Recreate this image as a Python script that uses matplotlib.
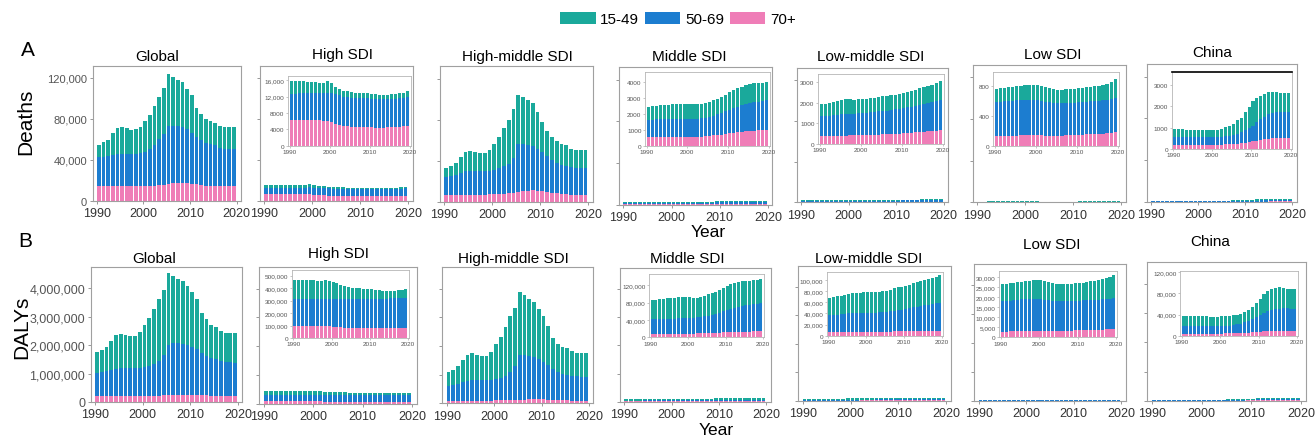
import numpy as np
import matplotlib.pyplot as plt
from matplotlib.patches import Patch
from matplotlib.ticker import FuncFormatter

plt.rcParams["font.family"] = ["Liberation Sans", "DejaVu Sans"]

FIG_W, FIG_H = 1315, 439
years = np.arange(1990, 2020)
age_groups = ["15-49", "50-69", "70+"]
colors = ["#1aa99b", "#1c7dd0", "#ef7db7"]

# ---- Deaths (Global and High-middle in thousands, others in counts) ----
d_global_1549 = [12, 14, 16, 21.5, 25.5, 26, 25, 23, 24, 26, 30, 33.5, 38.5, 41, 44.5,
                 51, 48, 45, 44, 39, 37, 28.5, 26, 23.5, 22.5, 21, 21, 21, 21.5, 22]
d_global_5069 = [28.5, 29, 29.4, 30.4, 31.4, 31.9, 31.9, 31.9, 31.9, 32.4, 33.8, 36.2, 40, 45, 50,
                 56.7, 56, 55.7, 55.2, 53, 49.5, 46, 43.7, 41.7, 40.5, 40.2, 37.8, 36.9, 36.9, 36.4]
d_global_70 = [14, 14, 14.1, 14.1, 14.1, 14.1, 14.1, 14.1, 14.1, 14.1, 14.2, 14.3, 14.5, 15, 15.5,
               16.3, 17, 17.3, 17.3, 17, 16.5, 16, 15.3, 14.8, 14.5, 14.3, 14.2, 14.1, 14.1, 14.1]

d_high_1549 = [3200, 3100, 3000, 3000, 2900, 2800, 2700, 2600, 2500, 2900, 2500, 1900, 1600, 1500, 1400,
               1300, 1300, 1200, 1200, 1200, 1200, 1100, 1100, 1100, 1100, 1100, 1100, 1200, 1200, 1300]
d_high_5069 = [6300, 6300, 6400, 6400, 6500, 6500, 6600, 6600, 6700, 6900, 7100, 7200, 7200, 7100, 7100,
               7100, 7100, 7100, 7200, 7100, 7000, 7100, 7000, 7000, 6900, 7000, 6900, 6900, 7000, 7100]
d_high_70 = [6300, 6400, 6400, 6400, 6300, 6300, 6200, 6200, 6100, 6100, 5800, 5400, 5100, 4900, 4800,
             4700, 4600, 4600, 4500, 4500, 4500, 4400, 4400, 4400, 4500, 4500, 4600, 4700, 4800, 4900]

d_hmid_1549 = [9, 10, 12, 16, 19, 20, 19, 18, 18, 21, 25, 30, 37, 43, 47,
               48, 46, 44, 42, 36, 29, 24, 22, 21, 20, 20, 18, 18, 18, 18]
d_hmid_5069 = [17.5, 18.4, 19.3, 21.2, 23, 22.9, 22.9, 22.8, 22.8, 22.7, 23.5, 25.4, 27, 28.5, 33.8,
               46, 45.5, 44, 42.8, 41, 38.5, 35.2, 32, 29.7, 28.2, 27.5, 26.8, 26, 26, 26]
d_hmid_70 = [6.5, 6.6, 6.7, 6.8, 7, 7.1, 7.1, 7.2, 7.2, 7.3, 7.5, 7.6, 8, 8.5, 9.2,
             10, 10.5, 11, 11.2, 11, 10.5, 9.8, 9, 8.3, 7.8, 7.5, 7.2, 7, 7, 7]

d_mid_1549 = [830, 840, 850, 860, 870, 880, 900, 920, 910, 900, 910, 900, 900, 910, 930,
              950, 970, 990, 1000, 1050, 1100, 1130, 1150, 1150, 1180, 1190, 1180, 1170, 1150, 1150]
d_mid_5069 = [1100, 1115, 1120, 1125, 1130, 1135, 1140, 1150, 1150, 1150, 1150, 1150, 1145, 1150, 1170,
              1190, 1240, 1290, 1350, 1410, 1470, 1530, 1600, 1670, 1720, 1760, 1780, 1800, 1820, 1850]
d_mid_70 = [520, 525, 530, 535, 540, 545, 550, 550, 550, 550, 550, 550, 555, 560, 580,
            610, 640, 670, 700, 740, 780, 820, 850, 880, 900, 920, 940, 960, 980, 1000]

d_lmid_1549 = [580, 590, 620, 650, 670, 700, 710, 700, 680, 680, 680, 680, 680, 690, 700,
               710, 710, 710, 720, 730, 740, 740, 760, 780, 800, 810, 820, 830, 850, 930]
d_lmid_5069 = [970, 975, 990, 1005, 1020, 1035, 1050, 1055, 1060, 1065, 1070, 1085, 1100, 1110, 1120,
               1130, 1140, 1160, 1180, 1200, 1220, 1245, 1270, 1295, 1320, 1355, 1390, 1425, 1460, 1490]
d_lmid_70 = [380, 385, 390, 395, 400, 405, 410, 415, 420, 425, 430, 435, 440, 450, 460,
             470, 480, 490, 500, 510, 520, 535, 550, 565, 580, 595, 610, 625, 640, 660]

d_low_1549 = [175, 177, 180, 183, 185, 187, 192, 195, 198, 201, 200, 195, 190, 184, 180,
              178, 178, 180, 182, 184, 186, 188, 190, 193, 196, 198, 203, 210, 230, 255]
d_low_5069 = [455, 458, 461, 464, 467, 470, 472, 473, 474, 473, 467, 459, 451, 445, 439,
              434, 432, 431, 431, 432, 433, 434, 435, 436, 437, 439, 440, 444, 448, 455]
d_low_70 = [125, 127, 129, 131, 133, 135, 136, 137, 138, 139, 138, 136, 134, 133, 133,
            134, 135, 137, 139, 141, 143, 146, 149, 152, 155, 158, 162, 166, 172, 180]

d_china_1549 = [360, 360, 360, 360, 360, 357, 355, 352, 353, 353, 355, 360, 385, 420, 480,
                520, 620, 680, 860, 1000, 1130, 1140, 1100, 1080, 1040, 980, 940, 890, 910, 910]
d_china_5069 = [360, 357, 354, 350, 346, 345, 343, 342, 342, 342, 345, 348, 359, 378, 400,
                430, 475, 525, 590, 660, 745, 860, 980, 1070, 1145, 1205, 1230, 1225, 1205, 1205]
d_china_70 = [210, 208, 206, 205, 204, 203, 202, 201, 200, 200, 200, 202, 206, 212, 220,
              230, 245, 265, 290, 320, 355, 390, 420, 450, 475, 495, 510, 515, 515, 515]

# ---- DALYs (all in thousands) ----
y_global_1549 = [730, 790, 870, 1040, 1200, 1210, 1170, 1120, 1140, 1250, 1490, 1680, 1940, 2170, 2290,
                 2530, 2360, 2270, 2220, 2090, 1950, 1770, 1400, 1300, 1160, 1130, 1050, 1000, 1020, 1040]
y_global_5069 = [820, 848, 876, 914, 952, 970, 980, 980, 980, 990, 1008, 1046, 1112, 1226, 1418,
                 1758, 1808, 1802, 1780, 1742, 1678, 1605, 1482, 1390, 1326, 1282, 1246, 1210, 1192, 1174]
y_global_70 = [200, 202, 204, 206, 208, 210, 210, 210, 210, 210, 212, 214, 218, 224, 232,
               242, 252, 258, 260, 258, 252, 245, 238, 230, 224, 218, 214, 210, 208, 206]

y_high_1549 = [156, 155, 155, 155, 153, 149, 145, 143, 153, 145, 133, 123, 113, 103, 95,
               89, 85, 83, 81, 79, 75, 71, 67, 65, 64, 63, 62, 63, 66, 68]
y_high_5069 = [217, 217, 217, 217, 217, 217, 217, 218, 220, 221, 223, 226, 229, 231, 233,
               235, 236, 237, 237, 238, 238, 238, 238, 238, 239, 239, 239, 239, 239, 240]
y_high_70 = [95, 96, 96, 96, 96, 96, 96, 95, 95, 94, 92, 89, 86, 84, 82,
             80, 79, 78, 78, 77, 77, 77, 77, 77, 77, 78, 79, 80, 81, 82]

y_hmid_1549 = [470, 520, 600, 760, 890, 940, 895, 830, 825, 970, 1220, 1430, 1710, 1940, 2020,
               2190, 2100, 1990, 1900, 1720, 1590, 1370, 1060, 960, 940, 920, 870, 820, 830, 840]
y_hmid_5069 = [535, 564, 603, 652, 700, 708, 712, 716, 720, 724, 732, 770, 836, 980, 1182,
               1554, 1538, 1513, 1480, 1422, 1306, 1202, 1080, 978, 924, 890, 864, 847, 839, 830]
y_hmid_70 = [85, 86, 87, 88, 90, 92, 93, 94, 95, 96, 98, 100, 104, 110, 118,
             126, 132, 137, 140, 138, 134, 128, 120, 112, 106, 100, 96, 93, 91, 90]

y_mid_1549 = [44, 45, 46, 47, 47, 48, 48, 48, 49, 49, 48, 46, 45, 46, 48,
              49, 50, 51, 52, 54, 56, 57, 58, 58, 58, 57, 56, 56, 55, 56]
y_mid_5069 = [34.5, 34.4, 34.3, 34.2, 35.1, 35, 34.9, 35.8, 35.7, 35.6, 35.5, 36.4, 37.2, 38, 38.7,
              40.4, 42, 43.6, 46.2, 48.8, 51.4, 54, 55.7, 57.4, 59.1, 60.9, 61.7, 62.5, 63.3, 64.1]
y_mid_70 = [7.5, 7.6, 7.7, 7.8, 7.9, 8, 8.1, 8.2, 8.3, 8.4, 8.5, 8.6, 8.8, 9, 9.3,
            9.6, 10, 10.4, 10.8, 11.2, 11.6, 12, 12.3, 12.6, 12.9, 13.1, 13.3, 13.5, 13.7, 13.9]

y_lmid_1549 = [30, 31, 33, 33, 35, 35, 36, 37, 37, 37, 38, 38, 38, 37, 38,
               38, 39, 40, 41, 41, 42, 43, 43, 44, 45, 45, 46, 47, 48, 50]
y_lmid_5069 = [31, 31.9, 31.8, 32.7, 32.6, 33.5, 33.4, 33.3, 33.2, 34.1, 34, 34, 33.9, 34.8, 34.7,
               35.6, 36.5, 37.4, 38.3, 39.2, 40.1, 41, 42.9, 43.8, 44.7, 46.6, 47.5, 48.4, 49.3, 50.2]
y_lmid_70 = [6, 6.1, 6.2, 6.3, 6.4, 6.5, 6.6, 6.7, 6.8, 6.9, 7, 7, 7.1, 7.2, 7.3,
             7.4, 7.5, 7.6, 7.7, 7.8, 7.9, 8, 8.1, 8.2, 8.3, 8.4, 8.5, 8.6, 8.7, 8.8]

y_low_1549 = [8.5, 8.6, 8.7, 8.8, 8.9, 8.9, 9, 9.2, 9.3, 9.4, 9.4, 9.2, 9, 8.8, 8.7,
              8.5, 8.5, 8.5, 8.6, 8.7, 8.8, 8.9, 9.1, 9.3, 9.5, 9.7, 10, 10.4, 11, 11.8]
y_low_5069 = [15.1, 15.3, 15.4, 15.6, 15.8, 15.9, 16, 16.1, 16.1, 16.1, 15.9, 15.6, 15.3, 15.1, 14.8,
              14.7, 14.7, 14.7, 14.8, 14.8, 14.9, 14.9, 15, 15, 15, 15.1, 15.1, 15.2, 15.3, 15.4]
y_low_70 = [2.9, 2.9, 3, 3, 3, 3.1, 3.1, 3.1, 3.2, 3.2, 3.2, 3.2, 3.2, 3.2, 3.3,
            3.3, 3.3, 3.4, 3.4, 3.5, 3.5, 3.6, 3.6, 3.7, 3.8, 3.8, 3.9, 4, 4.1, 4.2]

y_china_1549 = [18.5, 18.3, 18.2, 18.1, 18, 18, 17.9, 17.9, 17.8, 17.8, 17.9, 18.1, 18.3, 18.5, 18.8,
                19.2, 20, 21, 22.5, 26.5, 30.5, 34.5, 37.5, 39.5, 41, 41, 39.5, 37.5, 37, 36.5]
y_china_5069 = [15, 14.9, 14.8, 14.7, 14.6, 14.5, 14.5, 14.4, 14.4, 14.4, 14.4, 14.5, 14.9, 15.5, 16.4,
                17.7, 19.5, 22, 24.9, 28.3, 31.7, 35.2, 37.8, 39.5, 40.8, 41.7, 42.1, 42.1, 41.6, 41.6]
y_china_70 = [4, 4, 4, 4, 4, 4, 4, 4, 4, 4, 4.1, 4.2, 4.3, 4.5, 4.8,
              5.1, 5.5, 6, 6.6, 7.2, 7.8, 8.3, 8.7, 9, 9.2, 9.3, 9.4, 9.4, 9.4, 9.4]

year_ticks = [1990, 2000, 2010, 2020]


def box(l, t, r, b):
    """Pixel box (left, top, right, bottom) -> figure fraction rect."""
    return [l / FIG_W, 1 - b / FIG_H, (r - l) / FIG_W, (b - t) / FIG_H]


def draw_stack(ax, groups, scale):
    a15, a50, a70 = (np.asarray(g, float) * scale for g in groups)
    ax.bar(years, a70, 0.8, align="edge", color=colors[2], linewidth=0)
    ax.bar(years, a50, 0.8, bottom=a70, align="edge", color=colors[1], linewidth=0)
    ax.bar(years, a15, 0.8, bottom=a70 + a50, align="edge", color=colors[0], linewidth=0)


def grey_frame(ax, color="#a0a0a0", lw=0.8):
    for s in ax.spines.values():
        s.set_color(color)
        s.set_linewidth(lw)


def deaths_fmt(v, _):
    return f"{v:,.0f}" if v >= 10000 else f"{v:.0f}"


def dalys_fmt(v, _):
    return f"{v:,.0f}"


rows = [
    dict(ymax=132000, yticks=[0, 40000, 80000, 120000], ysize=8, fmt=deaths_fmt,
         panels=[
             ("Global", (d_global_1549, d_global_5069, d_global_70), 1000,
              (92.7, 66.7, 240.7, 201.7), (157, 57), None),
             ("High SDI", (d_high_1549, d_high_5069, d_high_70), 1,
              (260, 66.7, 412.7, 201.7), (342, 55),
              ((288, 77.3, 410.7, 146.7), 17000, [0, 4000, 8000, 12000, 16000])),
             ("High-middle SDI", (d_hmid_1549, d_hmid_5069, d_hmid_70), 1000,
              (440, 67.3, 592.7, 203), (517, 57), None),
             ("Middle SDI", (d_mid_1549, d_mid_5069, d_mid_70), 1,
              (619, 68.3, 772.3, 205.7), (689, 57),
              ((645, 73.3, 770, 146.7), 4600, [0, 1000, 2000, 3000, 4000])),
             ("Low-middle SDI", (d_lmid_1549, d_lmid_5069, d_lmid_70), 1,
              (796.7, 69, 948, 203.3), (871, 57),
              ((818, 75, 944, 145), 3400, [0, 1000, 2000, 3000])),
             ("Low SDI", (d_low_1549, d_low_5069, d_low_70), 1,
              (972.7, 65.7, 1125.7, 203.3), (1053, 55),
              ((993, 73, 1119, 146.7), 980, [0, 400, 800])),
             ("China", (d_china_1549, d_china_5069, d_china_70), 1,
              (1147, 65, 1296.7, 203), (1212, 53),
              ((1171.7, 73.3, 1291.7, 150), 3600, [0, 1000, 2000, 3000])),
         ]),
    dict(ymax=4740000, yticks=[0, 1000000, 2000000, 3000000, 4000000], ysize=9, fmt=dalys_fmt,
         panels=[
             ("Global", (y_global_1549, y_global_5069, y_global_70), 1000,
              (90.7, 268.3, 242.3, 403), (154, 259), None),
             ("High SDI", (y_high_1549, y_high_5069, y_high_70), 1000,
              (259.3, 268.3, 416.7, 405), (339, 254),
              ((291.7, 271, 409.3, 339), 545000, [0, 100000, 200000, 300000, 400000, 500000])),
             ("High-middle SDI", (y_hmid_1549, y_hmid_5069, y_hmid_70), 1000,
              (442.3, 268.3, 593.3, 404.3), (513, 259), None),
             ("Middle SDI", (y_mid_1549, y_mid_5069, y_mid_70), 1000,
              (620, 269.3, 770.7, 402.7), (687, 259),
              ((649, 275, 764.3, 338.3), 146000, [0, 40000, 80000, 120000])),
             ("Low-middle SDI", (y_lmid_1549, y_lmid_5069, y_lmid_70), 1000,
              (798.3, 266.7, 950.7, 401.7), (869, 259),
              ((826.7, 273.3, 943.3, 336.7), 114000, [0, 20000, 40000, 60000, 80000, 100000])),
             ("Low SDI", (y_low_1549, y_low_5069, y_low_70), 1000,
              (974.3, 265, 1125.7, 401.7), (1052, 245),
              ((999.3, 271.7, 1117.3, 338.3), 33400, [0, 5000, 10000, 15000, 20000, 25000, 30000])),
             ("China", (y_china_1549, y_china_5069, y_china_70), 1000,
              (1147.3, 263.3, 1305.7, 401.7), (1210, 242),
              ((1180, 271.7, 1298.3, 336.7), 123000, [0, 40000, 80000, 120000])),
         ]),
]

fig = plt.figure(figsize=(FIG_W / 100, FIG_H / 100), dpi=100)

for r, row in enumerate(rows):
    for i, (title, groups, scale, main_box, title_xy, inset) in enumerate(row["panels"]):
        ax = fig.add_axes(box(*main_box))
        draw_stack(ax, groups, scale)
        ax.set_xlim(1989.1, 2020.9)
        ax.set_ylim(0, row["ymax"])
        ax.set_xticks(year_ticks)
        ax.set_yticks(row["yticks"])
        ax.tick_params(axis="x", labelsize=9, labelcolor="#333333", color="#888888",
                       length=2.5, width=0.6, pad=2)
        ax.tick_params(axis="y", labelsize=row["ysize"], labelcolor="#555555", color="#888888",
                       length=2.5, width=0.6, pad=1.5)
        if i == 0:
            ax.yaxis.set_major_formatter(FuncFormatter(row["fmt"]))
        else:
            ax.set_yticklabels([])
        grey_frame(ax)
        fig.text(title_xy[0] / FIG_W, 1 - title_xy[1] / FIG_H, title,
                 ha="center", va="center", fontsize=11)

        if inset is not None:
            ibox, iymax, iticks = inset
            ia = fig.add_axes(box(*ibox))
            draw_stack(ia, groups, scale)
            ia.set_xlim(1989.6, 2020.3)
            ia.set_ylim(0, iymax)
            ia.set_xticks(year_ticks)
            ia.set_yticks(iticks)
            ia.yaxis.set_major_formatter(FuncFormatter(row["fmt"]))
            ia.tick_params(labelsize=4.6, labelcolor="#555555", color="#999999",
                           length=1.5, width=0.4, pad=1)
            grey_frame(ia, "#b5b5b5", 0.6)
            if r == 0 and title == "China":
                ia.spines["top"].set_color("black")
                ia.spines["top"].set_linewidth(1.2)

# row labels, axis labels
fig.text(28 / FIG_W, 1 - 51 / FIG_H, "A", ha="center", va="center", fontsize=15)
fig.text(25 / FIG_W, 1 - 242 / FIG_H, "B", ha="center", va="center", fontsize=15)
fig.text(26 / FIG_W, 1 - 122 / FIG_H, "Deaths", rotation=90, ha="center", va="center", fontsize=15)
fig.text(22 / FIG_W, 1 - 327 / FIG_H, "DALYs", rotation=90, ha="center", va="center", fontsize=15)
fig.text(708 / FIG_W, 1 - 233 / FIG_H, "Year", ha="center", va="center", fontsize=12.5)
fig.text(716 / FIG_W, 1 - 431 / FIG_H, "Year", ha="center", va="center", fontsize=12.5)

handles = [Patch(facecolor=c, edgecolor="none") for c in colors]
fig.legend(handles, age_groups, loc="center", bbox_to_anchor=(678 / FIG_W, 1 - 20 / FIG_H),
           ncol=3, frameon=False, fontsize=11, handlelength=2.3, handleheight=0.9,
           handletextpad=0.3, columnspacing=0.4, borderpad=0)

fig.savefig("out.png", dpi=100)
